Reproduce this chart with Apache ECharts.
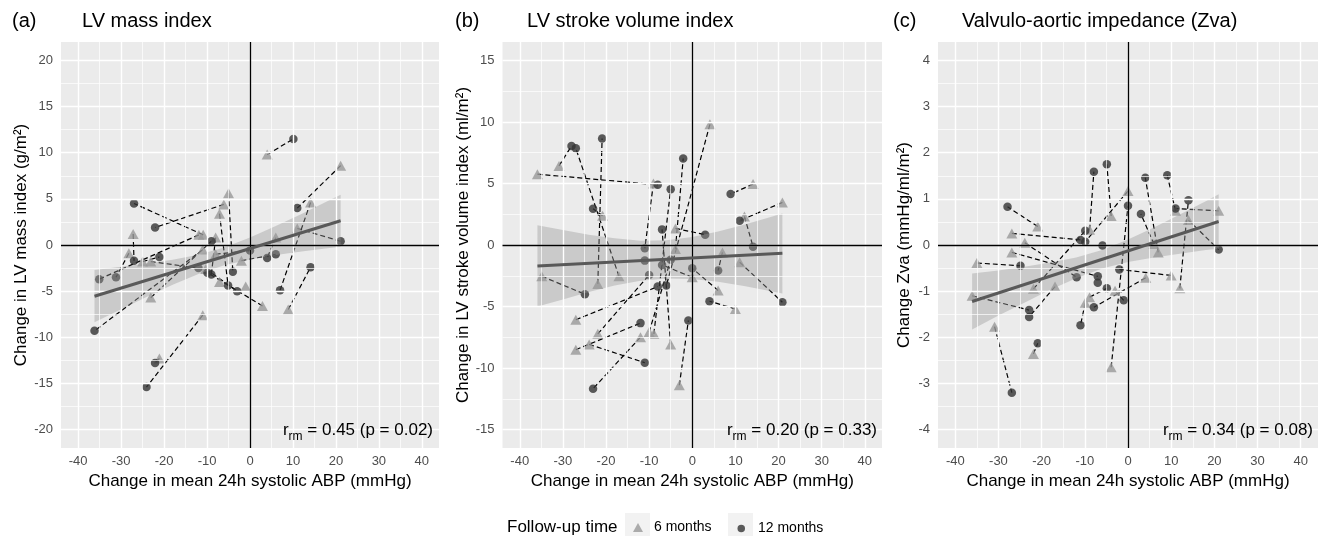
<!DOCTYPE html>
<html><head><meta charset="utf-8">
<script src="https://cdn.jsdelivr.net/npm/echarts@6/dist/echarts.min.js"></script>
<style>html,body{margin:0;padding:0;background:#fff}#c{width:1318px;height:536px}</style>
</head><body><div id="c"></div>
<script>
// ---------- tick values ----------
const xTicks = [-40, -30, -20, -10, 0, 10, 20, 30, 40];
const xMinor = [-35, -25, -15, -5, 5, 15, 25, 35];
const aYTicks = [-20, -15, -10, -5, 0, 5, 10, 15, 20];
const aYMinor = [-17.5, -12.5, -7.5, -2.5, 2.5, 7.5, 12.5, 17.5];
const bYTicks = [-15, -10, -5, 0, 5, 10, 15];
const bYMinor = [-12.5, -7.5, -2.5, 2.5, 7.5, 12.5];
const cYTicks = [-4, -3, -2, -1, 0, 1, 2, 3, 4];
const cYMinor = [-3.5, -2.5, -1.5, -0.5, 0.5, 1.5, 2.5, 3.5];

// ---------- panel (a) LV mass index: per patient 6-month and 12-month points ----------
const aX6  = [4.0, 21.1, 14.1, 8.9, 11.0, -10.9, -6.1, -5.0, -7.1, -27.2, -28.2, -11.9, -11.0, -11.0, -21.1, -23.1, -8.0, 2.9, 6.0, -2.0, -25.0, -23.1, -10.3, -8.0, -7.1, -1.0];
const aY6  = [9.8, 8.6, 4.6, -7.0, 1.8, 1.1, 4.4, 5.6, 3.4, 1.2, -0.9, 1.1, -0.5, -7.6, -12.3, -5.7, 0.8, -6.6, 0.8, -1.7, -1.8, -1.8, -2.6, -1.0, -4.0, -4.5];
const aX12 = [10.1, 11.0, 7.0, 14.1, 21.1, -27.0, -22.1, -4.0, -5.1, -27.0, -31.2, -35.1, -36.2, -24.1, -22.1, -9.0, -9.0, -9.9, 4.0, 6.0, -21.1, -12.0, -3.0, 0.0, null, null];
const aY12 = [11.5, 4.0, -4.9, -2.4, 0.4, 4.5, 1.9, -2.9, -4.4, -1.7, -3.5, -3.7, -9.3, -15.4, -12.8, 0.4, -3.2, -3.0, -1.4, -1.0, -1.3, -2.5, -5.0, -0.6, null, null];
const aFitX = [-36.2, 21.1];
const aFitY = [-5.55, 2.63];
const aBandX  = [-36.2, -30, -24, -18, -12, -6, 0, 6, 12, 18, 21.1];
const aBandLo = [-8.36, -6.95, -5.61, -4.31, -3.13, -2.20, -1.56, -1.09, -0.71, -0.36, -0.19];
const aBandHi = [-2.72, -2.37, -2.01, -1.59, -1.05, -0.28, 0.80, 2.05, 3.37, 4.74, 5.45];

// ---------- panel (b) LV stroke volume index ----------
const bX6  = [-35.9, -30.9, -17.0, -21.9, -20.8, -34.9, 4.1, -27.0, -3.9, -8.9, -5.0, -3.9, 14.1, 20.9, 11.0, 6.0, 10.0, -3.0, -23.9, -12.0, -27.0, -21.9, 12.1, 7.0, 0.0, -10.0, -9.0, null];
const bY6  = [5.76, 6.43, -2.54, -3.16, 2.38, -2.54, 9.81, -6.08, -0.32, -7.22, -8.08, 1.35, 4.95, 3.46, -1.4, -3.7, -5.2, -11.4, -8.08, -7.49, -8.51, -7.22, 2.32, -0.6, -2.62, -7.08, 5.0, null];
const bX12 = [-8.0, -28.0, -27.0, -20.9, -23.0, -24.9, -6.0, -8.0, -2.1, -5.0, -7.0, 3.0, 8.9, 11.0, 20.9, 0.0, 4.0, -0.9, -11.0, -23.0, -12.0, -10.0, 14.1, 6.0, -7.0, -5.0, -11.0, -11.0];
const bY12 = [4.89, 8.05, 7.86, 8.65, 2.95, -4.0, -3.3, -3.38, 7.03, 4.54, 1.27, 0.84, 4.14, 1.97, -4.65, -1.89, -4.57, -6.14, -9.57, -11.68, -6.35, -2.43, -0.14, -2.08, -1.62, -1.19, -0.27, -1.27];
const bFitX = [-35.9, 20.9];
const bFitY = [-1.70, -0.68];
const bBandX  = [-35.9, -30, -24, -18, -12, -6, 0, 6, 12, 18, 20.9];
const bBandLo = [-5.0, -4.42, -3.82, -3.30, -2.91, -2.72, -2.77, -2.99, -3.33, -3.73, -3.95];
const bBandHi = [1.6, 1.22, 0.84, 0.54, 0.35, 0.38, 0.65, 1.09, 1.65, 2.25, 2.57];

// ---------- panel (c) Valvulo-aortic impedance ----------
const cX6  = [-20.9, -35.0, -26.9, -23.9, -30.9, -21.9, -21.9, -16.9, -36.1, -26.9, -8.9, -3.9, 0.0, -3.9, 7.0, 11.0, 21.0, 14.0, 10.0, -3.0, -9.9, -8.9, 4.1, 12.0, 6.0, null, null];
const cY6  = [0.4, -0.39, 0.25, 0.05, -1.77, -2.36, -0.95, -0.9, -1.1, -0.16, 0.33, 0.63, 1.17, -2.65, -0.16, 0.74, 0.74, 0.54, -0.66, -0.99, -1.25, -1.13, -0.71, -0.94, 0.02, null, null];
const cX12 = [-27.9, -24.9, -11.0, -11.9, -26.9, -20.9, -9.9, -22.9, -22.9, -7.0, -7.9, -4.9, -9.9, 0.0, 4.0, 9.1, 11.0, 21.0, -2.0, -1.0, -11.0, -4.9, -7.9, 14.0, 3.0, -5.9, -7.0];
const cY12 = [0.83, -0.45, 0.11, -0.7, -3.2, -2.13, 0.31, -1.56, -1.41, -0.68, 1.59, 1.75, 0.07, 0.85, 1.46, 1.51, 0.79, -0.1, -0.53, -1.2, -1.74, -0.94, -1.35, 0.97, 0.67, -0.01, -0.82];
const cFitX = [-36.1, 21.0];
const cFitY = [-1.225, 0.51];
const cBandX  = [-36.1, -30, -24, -18, -12, -6, 0, 6, 12, 18, 21.0];
const cBandLo = [-1.83, -1.53, -1.25, -0.97, -0.72, -0.51, -0.37, -0.27, -0.19, -0.11, -0.08];
const cBandHi = [-0.62, -0.55, -0.47, -0.38, -0.27, -0.11, 0.12, 0.38, 0.66, 0.95, 1.10];

const tags = ['(a)', '(b)', '(c)'];
const titles = ['LV mass index', 'LV stroke volume index', 'Valvulo-aortic impedance (Zva)'];
const yNames = ['Change in LV mass index (g/m²)', 'Change in LV stroke volume index (ml/m²)', 'Change Zva (mmHg/ml/m²)'];
const xName = 'Change in mean 24h systolic ABP (mmHg)';
const rValues = ['0.45', '0.20', '0.34'];
const pValues = ['0.02', '0.33', '0.08'];
const legendTitle = 'Follow-up time';

const FONT = 'Liberation Sans, Arial, Helvetica, sans-serif';
const panels = [
  {x6:aX6,y6:aY6,x12:aX12,y12:aY12,fx:aFitX,fy:aFitY,bx:aBandX,lo:aBandLo,hi:aBandHi,yt:aYTicks,ym:aYMinor,ymax:22,
   left:61,width:378,nameGap:31,tagX:12,titleX:82,annX:433},
  {x6:bX6,y6:bY6,x12:bX12,y12:bY12,fx:bFitX,fy:bFitY,bx:bBandX,lo:bBandLo,hi:bBandHi,yt:bYTicks,ym:bYMinor,ymax:16.5,
   left:502.5,width:379.5,nameGap:31,tagX:455,titleX:527,annX:877},
  {x6:cX6,y6:cY6,x12:cX12,y12:cY12,fx:cFitX,fy:cFitY,bx:cBandX,lo:cBandLo,hi:cBandHi,yt:cYTicks,ym:cYMinor,ymax:4.4,
   left:938,width:387,nameGap:25,tagX:893,titleX:962,annX:1313}
];

const grid = [], xAxis = [], yAxis = [], series = [], title = [], graphic = [];
const TOP = 42, HEIGHT = 406;

panels.forEach((p, i) => {
  grid.push({left:p.left, top:TOP, width:p.width, height:HEIGHT, show:true, backgroundColor:'#EBEBEB', borderWidth:0, containLabel:false});
  xAxis.push({type:'value', gridIndex:i, min:-44, max:44,
    name:xName, nameLocation:'middle', nameGap:15,
    nameTextStyle:{fontSize:17, color:'#000', fontFamily:FONT, verticalAlign:'top'},
    axisLine:{show:false}, splitLine:{show:false},
    axisTick:{show:true, length:3, customValues:xTicks, lineStyle:{color:'#333', width:1}},
    axisLabel:{show:true, customValues:xTicks, margin:7, fontSize:13, color:'#4D4D4D', fontFamily:FONT}
  });
  yAxis.push({type:'value', gridIndex:i, min:-p.ymax, max:p.ymax,
    name:yNames[i], nameLocation:'middle', nameGap:p.nameGap, nameRotate:90,
    nameTextStyle:{fontSize:17, color:'#000', fontFamily:FONT},
    axisLine:{show:false}, splitLine:{show:false},
    axisTick:{show:true, length:3, customValues:p.yt, lineStyle:{color:'#333', width:1}},
    axisLabel:{show:true, customValues:p.yt, margin:8, fontSize:13, color:'#4D4D4D', fontFamily:FONT}
  });
  const ml = [];
  xMinor.forEach(v => ml.push({xAxis:v, lineStyle:{color:'#FFFFFF', width:0.7, type:'solid'}}));
  p.ym.forEach(v => ml.push({yAxis:v, lineStyle:{color:'#FFFFFF', width:0.7, type:'solid'}}));
  xTicks.forEach(v => ml.push({xAxis:v, lineStyle:{color:'#FFFFFF', width:1.4, type:'solid'}}));
  p.yt.forEach(v => ml.push({yAxis:v, lineStyle:{color:'#FFFFFF', width:1.4, type:'solid'}}));
  ml.push({xAxis:0, lineStyle:{color:'#000', width:1.3, type:'solid'}});
  ml.push({yAxis:0, lineStyle:{color:'#000', width:1.3, type:'solid'}});
  series.push({type:'scatter', xAxisIndex:i, yAxisIndex:i, data:[], silent:true, z:1,
    markLine:{silent:true, symbol:['none','none'], label:{show:false}, animation:false, emphasis:{disabled:true}, data:ml}});

  const links = [];
  const pts6 = [], pts12 = [];
  for (let k = 0; k < p.x6.length; k++) {
    const has6 = p.x6[k] !== null, has12 = p.x12[k] !== null;
    if (has6) pts6.push([p.x6[k], p.y6[k]]);
    if (has12) pts12.push([p.x12[k], p.y12[k]]);
    if (has6 && has12) links.push({coords:[[p.x6[k], p.y6[k]], [p.x12[k], p.y12[k]]]});
  }
  series.push({type:'lines', coordinateSystem:'cartesian2d', xAxisIndex:i, yAxisIndex:i, z:2, silent:true, animation:false,
    lineStyle:{color:'#000', width:1.2, type:[5,3], opacity:1, curveness:0}, data:links});
  series.push({type:'scatter', name:'6 months', xAxisIndex:i, yAxisIndex:i, z:3, animation:false,
    symbol:'triangle', symbolSize:[11,10], itemStyle:{color:'#999999'}, data:pts6});
  series.push({type:'scatter', name:'12 months', xAxisIndex:i, yAxisIndex:i, z:3, animation:false,
    symbol:'circle', symbolSize:8.5, itemStyle:{color:'#333333'}, data:pts12});
  series.push({type:'custom', xAxisIndex:i, yAxisIndex:i, z:4, silent:true, animation:false, data:[[0,0]],
    renderItem:(params, api) => {
      const pts = [];
      for (let j = 0; j < p.bx.length; j++) pts.push(api.coord([p.bx[j], p.hi[j]]));
      for (let j = p.bx.length - 1; j >= 0; j--) pts.push(api.coord([p.bx[j], p.lo[j]]));
      return {type:'polygon', shape:{points:pts}, style:{fill:'rgba(153,153,153,0.4)'}};
    }});
  series.push({type:'line', xAxisIndex:i, yAxisIndex:i, z:5, silent:true, animation:false, symbol:'none',
    lineStyle:{color:'#595959', width:3}, data:[[p.fx[0], p.fy[0]], [p.fx[1], p.fy[1]]]});

  title.push({text:tags[i], left:p.tagX, top:11, padding:0, textStyle:{fontSize:20, fontWeight:'normal', color:'#000', fontFamily:FONT}});
  title.push({text:titles[i], left:p.titleX, top:11, padding:0, textStyle:{fontSize:20, fontWeight:'normal', color:'#000', fontFamily:FONT}});
  graphic.push({type:'text', x:p.annX, y:443, z:10, style:{
    text:'{r|r}{s|rm}{r| = ' + rValues[i] + ' (p = ' + pValues[i] + ')}',
    align:'right', verticalAlign:'bottom', fontFamily:FONT,
    rich:{r:{fontSize:17, fill:'#000', fontFamily:FONT, padding:[0,0,4,0], verticalAlign:'bottom'},
          s:{fontSize:12, fill:'#000', fontFamily:FONT, verticalAlign:'bottom'}}
  }});
});

graphic.push({type:'text', x:507, y:527, style:{text:legendTitle, fontSize:17, fill:'#000', fontFamily:FONT, verticalAlign:'middle', align:'left'}});
graphic.push({type:'rect', shape:{x:625, y:513, width:25, height:25}, style:{fill:'#F2F2F2'}, z:-1});
graphic.push({type:'rect', shape:{x:728, y:513, width:25, height:25}, style:{fill:'#F2F2F2'}, z:-1});

const chart = echarts.init(document.getElementById('c'), null, {renderer:'canvas'});
chart.setOption({
  animation:false,
  backgroundColor:'#FFFFFF',
  textStyle:{fontFamily:FONT},
  title, grid, xAxis, yAxis, series, graphic,
  legend:[
    {data:[{name:'6 months', icon:'triangle'}], left:633, top:520.5, itemWidth:10, itemHeight:9, padding:0,
     selectedMode:false, textStyle:{fontSize:14, color:'#000', fontFamily:FONT, padding:[0,0,0,6]}},
    {data:[{name:'12 months', icon:'circle'}], left:737.5, top:521.5, itemWidth:7.5, itemHeight:7.5, padding:0,
     selectedMode:false, textStyle:{fontSize:14, color:'#000', fontFamily:FONT, padding:[0,0,0,8]}}
  ]
});
</script></body></html>
